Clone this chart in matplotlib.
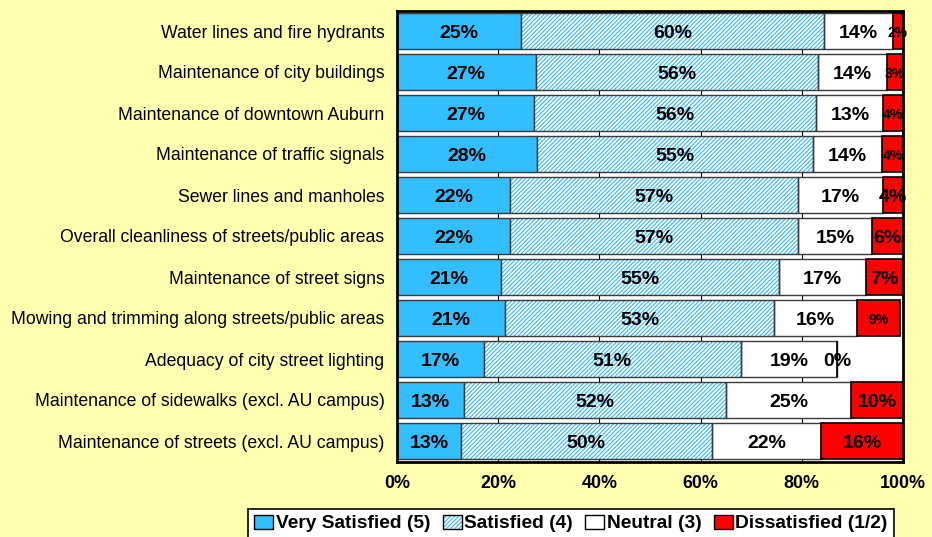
import matplotlib
matplotlib.use("Agg")
import matplotlib.pyplot as plt
import numpy as np
from matplotlib.patches import Patch
from matplotlib.legend_handler import HandlerTuple

plt.rcParams['font.family'] = ['Liberation Sans', 'DejaVu Sans']

categories = [
    "Water lines and fire hydrants",
    "Maintenance of city buildings",
    "Maintenance of downtown Auburn",
    "Maintenance of traffic signals",
    "Sewer lines and manholes",
    "Overall cleanliness of streets/public areas",
    "Maintenance of street signs",
    "Mowing and trimming along streets/public areas",
    "Adequacy of city street lighting",
    "Maintenance of sidewalks (excl. AU campus)",
    "Maintenance of streets (excl. AU campus)",
]
very_satisfied = [24.6, 27.4, 27.1, 27.6, 22.3, 22.3, 20.6, 21.3, 17.2, 13.3, 12.6]
satisfied      = [59.8, 55.8, 55.8, 54.6, 56.9, 56.9, 54.8, 53.3, 50.7, 51.7, 49.6]
neutral        = [13.6, 13.7, 13.2, 13.7, 16.8, 14.7, 17.3, 16.3, 19.1, 24.8, 21.6]
dissatisfied   = [2.0, 3.1, 3.9, 4.1, 4.0, 6.1, 7.3, 8.6, 0.0, 10.2, 16.4]
series_names = ["Very Satisfied (5)", "Satisfied (4)", "Neutral (3)", "Dissatisfied (1/2)"]
xticks = [0, 20, 40, 60, 80, 100]
xtick_labels = ["0%", "20%", "40%", "60%", "80%", "100%"]
red_label_size = [10, 10, 10, 10, 14, 14, 14, 10, 14, 14, 14]

BG = "#FFFFB0"
BLUE = "#33BFFF"
HATCH_BLUE = "#45BDF2"
EDGE = "#3A3A3A"
HATCH = "////////"

plt.rcParams['hatch.linewidth'] = 0.9

fig = plt.figure(figsize=(9.32, 5.37), dpi=100, facecolor=BG)
ax = fig.add_axes([397/932, 1-461.5/537, (903-397)/932, 451/537])
ax.set_facecolor("white")

y = np.arange(len(categories))
h = 0.86
vs = np.array(very_satisfied)
sa = np.array(satisfied)
ne = np.array(neutral)
di = np.array(dissatisfied)

for xv in xticks[1:-1]:
    ax.axvline(xv, color="black", linewidth=0.8, zorder=0.5)

ax.barh(y, vs, height=h, color=BLUE, edgecolor=EDGE, linewidth=1, zorder=3)
ax.barh(y, sa, left=vs, height=h, facecolor="white", edgecolor=HATCH_BLUE,
        hatch=HATCH, linewidth=0, zorder=3)
ax.barh(y, sa, left=vs, height=h, fill=False, edgecolor=EDGE, linewidth=1, zorder=4)
ax.barh(y, ne, left=vs+sa, height=h, color="white", edgecolor=EDGE, linewidth=1, zorder=3)
ax.barh(y, di, left=vs+sa+ne, height=h, color="#FF0000", edgecolor="black", linewidth=1.2, zorder=3)

fs = 14
dy = 0.05
for i in range(len(categories)):
    ax.text(vs[i]/2, y[i]+dy, f"{round(vs[i])}%", ha="center", va="center",
            fontsize=fs, fontweight="bold", zorder=6)
    ax.text(vs[i]+sa[i]/2, y[i]+dy, f"{round(sa[i])}%", ha="center", va="center",
            fontsize=fs, fontweight="bold", zorder=6)
    ax.text(vs[i]+sa[i]+ne[i]/2, y[i]+dy, f"{round(ne[i])}%", ha="center", va="center",
            fontsize=fs, fontweight="bold", zorder=6)
    ax.text(vs[i]+sa[i]+ne[i]+di[i]/2, y[i]+dy, f"{round(di[i])}%", ha="center", va="center",
            fontsize=red_label_size[i], fontweight="bold", zorder=6, clip_on=False)

ax.set_xlim(0, 100)
ax.set_ylim(len(categories)-0.5, -0.5)
ax.set_yticks(y)
ax.set_yticklabels(categories, fontsize=12.7)
ax.set_xticks(xticks)
ax.set_xticklabels(xtick_labels, fontsize=12.9, fontweight="bold")
ax.tick_params(axis="both", length=0)
ax.tick_params(axis="y", pad=9)
ax.tick_params(axis="x", pad=10)
for s in ax.spines.values():
    s.set_linewidth(2)
    s.set_color("black")
    s.set_zorder(7)

handles = [
    Patch(facecolor=BLUE, edgecolor="black", linewidth=1),
    (Patch(facecolor="white", edgecolor=HATCH_BLUE, hatch=HATCH, linewidth=0),
     Patch(fill=False, edgecolor="black", linewidth=1)),
    Patch(facecolor="white", edgecolor="black", linewidth=1),
    Patch(facecolor="#FF0000", edgecolor="black", linewidth=1),
]
leg = fig.legend(handles, series_names, loc="upper center", ncol=4,
                 bbox_to_anchor=(571/932, 1-509/537), frameon=True, fancybox=False,
                 edgecolor="black", facecolor="white", framealpha=1,
                 prop={"weight": "bold", "size": 13.8},
                 handlelength=1.0, handleheight=0.75, handletextpad=0.12,
                 columnspacing=0.65, borderpad=0.3, borderaxespad=0,
                 handler_map={tuple: HandlerTuple(ndivide=1, pad=0)})
leg.get_frame().set_linewidth(1.2)

fig.savefig("out.png", dpi=100, facecolor=BG)
